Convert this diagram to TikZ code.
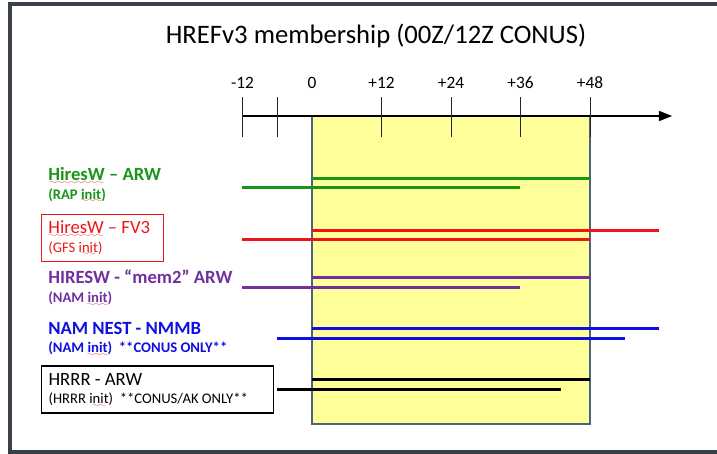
\documentclass[tikz,border=0pt]{standalone}
\usepackage{fontspec}
\setmainfont{Carlito}
\usepackage{tikz}
\usetikzlibrary{arrows.meta}
\definecolor{hgreen}{RGB}{25,150,25}
\definecolor{hred}{RGB}{240,20,20}
\definecolor{hpurple}{RGB}{112,48,160}
\definecolor{hblue}{RGB}{15,15,225}
\definecolor{frame}{RGB}{58,64,72}
\definecolor{boxedge}{RGB}{79,98,125}
\definecolor{boxfill}{RGB}{255,255,153}
\definecolor{spell}{RGB}{235,60,60}
\font\wavefont=lasy6
\newsavebox\spellbox
\newcommand\spellmark[1]{\sbox\spellbox{#1}\rlap{\textcolor{spell}{\raisebox{-2.6pt}[0pt][0pt]{\hbox to\wd\spellbox{\cleaders\hbox{\wavefont\char58}\hfil}}}}#1}
\newcommand\subline{\fontsize{11}{14}\selectfont}
\newcommand\fontspace{\spaceskip=0pt\xspaceskip=0pt\relax}
\tikzset{member/.style={anchor=west,align=left,inner sep=0pt,font=\fontsize{14}{14}\selectfont}}
\tikzset{tagbox/.style={member,draw,inner xsep=5.25pt,minimum height=35.25pt}}

\begin{document}
\begin{tikzpicture}[x=4.34375pt, y=-0.75pt, >={Triangle[length=10pt,width=7.5pt]},
    bar/.style={line width=2.25pt}, tick/.style={draw=black!85, line width=0.7pt}]
    \useasboundingbox (-53.87,0) rectangle (69.93,454);
    \clip (-53.87,0) rectangle (69.93,454);
    \draw[frame, line width=3pt] (-52.14,3.5) rectangle (75,452);

    \node (title) at (11.05,36) {\fontsize{20}{24}\selectfont HREFv3 membership (00Z/12Z CONUS)};

    % forecast window
    \draw[boxedge, fill=boxfill, line width=1.5pt] (0,116) rectangle (48,424);

    % time axis
    \coordinate (axstart) at (-12,116);
    \coordinate (axend) at (62.2,116);
    \draw[->, line width=1.2pt] (axstart) -- (axend);
    \foreach \h in {-12,-6,12,24,36,48}
        \draw[tick] (\h,97) -- (\h,137);
    \foreach \h/\lab in {-12/-12,0/0,12/+12,24/+24,36/+36,48/+48}
        \node[font=\fontsize{13}{15}\selectfont] (lab\h) at (\h,82.5) {\lab};

    % members
    \node[member, text=hgreen, font=\fontsize{14}{14}\selectfont\bfseries] (arw) at (-45.58,184.5)
        {\spellmark{HiresW} – ARW\\{\subline (RAP \spellmark{init})}};
    \node[tagbox, draw=hred, line width=0.6pt, text=hred, text width=81pt] (fv3) at (-46.79,237.5)
        {\fontspace\spellmark{HiresW} – FV3\\{\subline (GFS \spellmark{init})}};
    \node[member, text=hpurple, font=\fontsize{14}{14}\selectfont\bfseries] (mem2) at (-45.58,287.5)
        {HIRESW - “mem2” ARW\\{\subline (NAM \spellmark{init})}};
    \node[member, text=hblue, font=\fontsize{14}{14}\selectfont\bfseries] (nmmb) at (-45.58,338.5)
        {NAM NEST - NMMB\\{\subline (NAM \spellmark{init})\ \ **CONUS ONLY**}};
    \node[tagbox, line width=0.9pt, text width=163.5pt] (hrrr) at (-46.79,389.5)
        {\fontspace HRRR - ARW\\{\subline (HRRR \spellmark{init})\ \ **CONUS/AK ONLY**}};

    \foreach \c/\ya/\ea/\yb/\sb/\eb in {hgreen/178/48/187.5/-12/36, hred/230/60/239/-12/48,
        hpurple/277/48/287.5/-12/36, hblue/328.5/60/338.5/-6/54, black/379/48/389.5/-6/43}
        \draw[bar, \c] (0,\ya) -- (\ea,\ya) (\sb,\yb) -- (\eb,\yb);
\end{tikzpicture}
\end{document}
